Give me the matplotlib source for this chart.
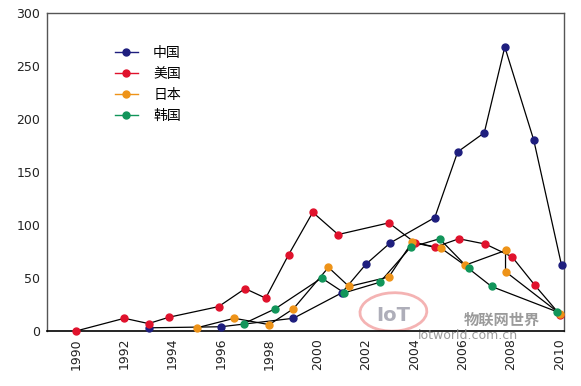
import matplotlib
matplotlib.use("Agg")

import matplotlib.pyplot as plt
from matplotlib.lines import Line2D
from matplotlib.patches import Ellipse

plt.rcParams['font.family'] = ['DejaVu Sans', 'Noto Sans CJK SC']

# ---------------- DATA ----------------
series_names = ["中国", "美国", "日本", "韩国"]
colors = ["#1E1E7E", "#E0122C", "#EE9318", "#11955A"]

cn_x = [1993.0, 1996.0, 1999.0, 2001.0, 2002.0, 2003.0, 2004.85, 2005.8, 2006.9, 2007.75, 2008.95, 2010.1]
cn_y = [3, 4, 12, 36, 63, 83, 107, 169, 187, 268, 180, 62]

us_x = [1990.0, 1992.0, 1993.0, 1993.85, 1995.9, 1997.0, 1997.85, 1998.8, 1999.8, 2000.85, 2002.95,
        2004.05, 2004.85, 2005.85, 2006.95, 2008.05, 2009.0, 2010.05]
us_y = [0, 12, 7, 13, 23, 40, 31, 72, 112, 91, 102, 83, 79, 87, 82, 70, 43, 15]

jp_x = [1995.0, 1996.55, 1998.0, 1999.0, 2000.45, 2001.3, 2002.95, 2003.92, 2005.12, 2006.1, 2007.78, 2007.78, 2010.05]
jp_y = [3, 12, 6, 21, 60, 42, 51, 84, 78, 62, 76, 56, 16]

kr_x = [1996.95, 1998.25, 2000.17, 2001.1, 2002.58, 2003.85, 2005.05, 2006.25, 2007.2, 2009.93]
kr_y = [7, 21, 50, 36, 46, 79, 87, 59, 42, 18]

xticks = list(range(1990, 2011, 2))
yticks = [0, 50, 100, 150, 200, 250, 300]

# ---------------- FIGURE ----------------
fig = plt.figure(figsize=(5.81, 3.86), dpi=100, facecolor="white")
ax = fig.add_axes([0.081, 0.1425, 0.8897, 0.8238])

all_series = [(cn_x, cn_y), (us_x, us_y), (jp_x, jp_y), (kr_x, kr_y)]
for (xs, ys), c in zip(all_series, colors):
    ax.plot(xs, ys, color="black", lw=0.9, zorder=2)
    ax.plot(xs, ys, ls="none", marker="o", markersize=5,
            markerfacecolor=c, markeredgecolor=c, zorder=3, clip_on=False)

ax.set_xlim(1988.8, 2010.2)
ax.set_ylim(0, 300)
ax.set_xticks(xticks)
ax.set_xticklabels([str(t) for t in xticks], rotation=90, fontsize=9, color="#222222")
ax.set_yticks(yticks)
ax.set_yticklabels([str(t) for t in yticks], fontsize=9, color="#222222")
ax.tick_params(length=0, pad=5)

for sp in ["top", "right", "left"]:
    ax.spines[sp].set_color("#555555")
    ax.spines[sp].set_linewidth(1.0)
ax.spines["bottom"].set_color("black")
ax.spines["bottom"].set_linewidth(1.2)

# ---------------- LEGEND ----------------
handles = [Line2D([0], [0], color=c, lw=1.0, marker="o", markersize=5,
                  markerfacecolor=c, markeredgecolor=c, label=n)
           for n, c in zip(series_names, colors)]
leg = ax.legend(handles=handles, loc="upper left", bbox_to_anchor=(0.107, 0.936),
                frameon=False, handlelength=1.65, handletextpad=1.1,
                labelspacing=0.5, prop={"family": "Noto Sans CJK SC", "size": 10})

# ---------------- WATERMARK ----------------
ax.add_patch(Ellipse((0.67, 0.06), 0.13, 0.12, transform=ax.transAxes, fill=False,
                     edgecolor="#F2A0A0", lw=2.0, angle=15, alpha=0.8))
ax.text(0.67, 0.05, "IoT", transform=ax.transAxes, fontsize=14, fontweight="bold",
        color="#9A9AA8", ha="center", va="center", alpha=0.8)
ax.text(0.88, 0.035, "物联网世界", transform=ax.transAxes, fontsize=11, fontweight="bold",
        color="#8A8A8A", ha="center", va="center", family="Noto Sans CJK SC", alpha=0.85)
fig.text(0.806, 0.13, "iotworld.com.cn", fontsize=9, color="#8A8A8A",
         ha="center", va="center", alpha=0.85)

fig.savefig("out.png", dpi=100, facecolor="white")
plt.close()
